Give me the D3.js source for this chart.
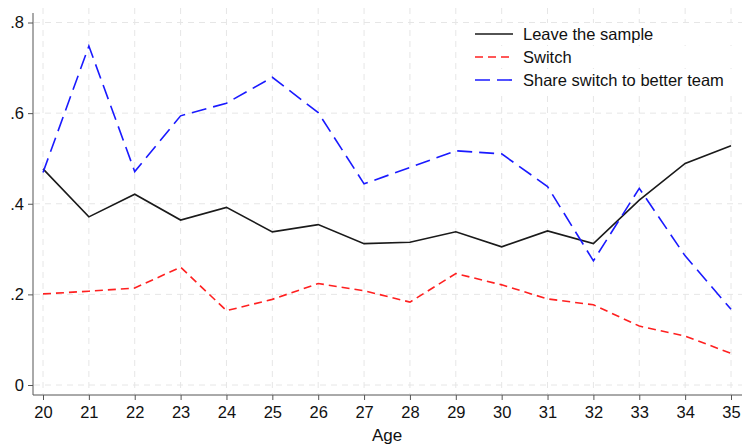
<!DOCTYPE html>
<html lang="en">
<head>
    <meta charset="UTF-8">
    <title>Leave / Switch by Age</title>
    <script src="https://d3js.org/d3.v7.min.js"></script>
    <style>
        body {
            margin: 0;
            background-color: white;
            font-family: 'Liberation Sans', Arial, sans-serif;
        }
        .grid line {
            stroke: #e6e6e6;
            stroke-dasharray: 6 5;
        }
        .axis path, .axis line {
            stroke: #555;
        }
        .axis text {
            font-size: 16.5px;
            fill: #111;
        }
    </style>
</head>
<body>
    <div id="chart"></div>

    <script>
        // Data
        const ages = [20, 21, 22, 23, 24, 25, 26, 27, 28, 29, 30, 31, 32, 33, 34, 35];
        const leaveSample = [0.477, 0.371, 0.421, 0.364, 0.392, 0.338, 0.354, 0.312, 0.315, 0.338, 0.305, 0.340, 0.312, 0.408, 0.489, 0.528];
        const switchShare = [0.201, 0.207, 0.214, 0.260, 0.164, 0.189, 0.224, 0.208, 0.183, 0.246, 0.221, 0.190, 0.177, 0.130, 0.108, 0.070];
        const betterTeam = [0.469, 0.748, 0.471, 0.594, 0.622, 0.679, 0.601, 0.444, 0.480, 0.517, 0.510, 0.438, 0.274, 0.434, 0.285, 0.167];
        const yTicks = [0, 0.2, 0.4, 0.6, 0.8];

        const seriesNames = ["Leave the sample", "Switch", "Share switch to better team"];
        const seriesColors = ["#1a1a1a", "#ff2020", "#1a1aff"];
        const seriesDash = [null, "8 5", "15 7"];
        const seriesValues = [leaveSample, switchShare, betterTeam];

        const width = 742;
        const height = 444;

        const svg = d3.select("#chart")
            .append("svg")
            .attr("width", width)
            .attr("height", height);

        const x = d3.scaleLinear()
            .domain([20, 35])
            .range([43, 731]);

        const y = d3.scaleLinear()
            .domain([0, 0.8])
            .range([385, 22.5]);

        // Gridlines
        const grid = svg.append("g").attr("class", "grid");
        grid.selectAll(".h")
            .data(yTicks)
            .enter()
            .append("line")
            .attr("x1", 34).attr("x2", 742)
            .attr("y1", d => y(d)).attr("y2", d => y(d));
        grid.selectAll(".v")
            .data(ages)
            .enter()
            .append("line")
            .attr("x1", d => x(d)).attr("x2", d => x(d))
            .attr("y1", 8).attr("y2", 394);

        // Axes
        const fmt = d => d === 0 ? "0" : d3.format(".1f")(d).replace(/^0/, "");

        svg.append("g")
            .attr("class", "axis")
            .attr("transform", "translate(33,0)")
            .call(d3.axisLeft(y).tickValues(yTicks).tickFormat(fmt).tickSize(5).tickPadding(4))
            .call(g => g.select(".domain").attr("d", "M0,13V395"));

        svg.append("g")
            .attr("class", "axis")
            .attr("transform", "translate(0,395)")
            .call(d3.axisBottom(x).tickValues(ages).tickFormat(d3.format("d")).tickSize(5).tickPadding(6))
            .call(g => g.select(".domain").attr("d", "M33,0H742"));

        svg.append("text")
            .attr("x", 387)
            .attr("y", 441)
            .attr("text-anchor", "middle")
            .style("font-size", "17px")
            .style("fill", "#111")
            .text("Age");

        // Lines
        const line = d3.line()
            .x((d, i) => x(ages[i]))
            .y(d => y(d));

        seriesValues.forEach((vals, i) => {
            svg.append("path")
                .datum(vals)
                .attr("fill", "none")
                .attr("stroke", seriesColors[i])
                .attr("stroke-width", 1.6)
                .attr("stroke-dasharray", seriesDash[i])
                .attr("d", line);
        });

        // Legend
        const legend = svg.append("g").attr("transform", "translate(475,34)");
        seriesNames.forEach((name, i) => {
            const row = legend.append("g").attr("transform", `translate(0,${i * 23})`);
            row.append("rect")
                .attr("x", -4).attr("y", -11)
                .attr("width", 262).attr("height", 22)
                .attr("fill", "white");
            row.append("line")
                .attr("x1", 0).attr("x2", 38)
                .attr("stroke", seriesColors[i])
                .attr("stroke-width", 1.6)
                .attr("stroke-dasharray", seriesDash[i]);
            row.append("text")
                .attr("x", 48)
                .attr("y", 6)
                .style("font-size", "16.5px")
                .style("fill", "#111")
                .text(name);
        });
    </script>
</body>
</html>
